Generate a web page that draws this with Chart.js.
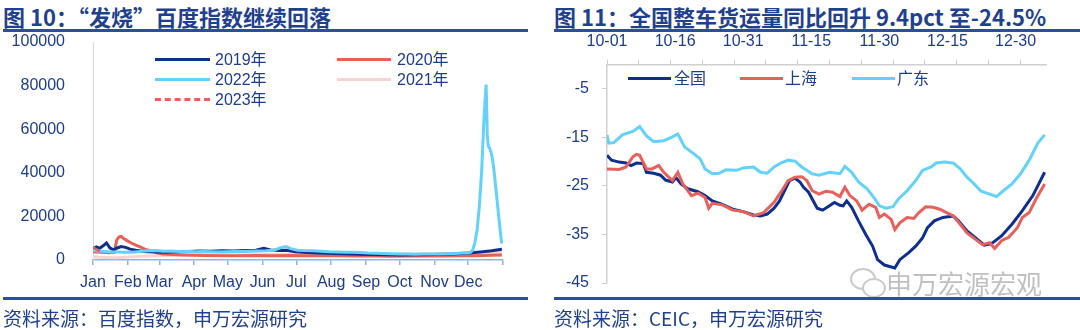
<!DOCTYPE html>
<html>
<head>
<meta charset="utf-8">
<script src="https://cdn.jsdelivr.net/npm/chart.js@4.4.1/dist/chart.umd.min.js"></script>
<style>
  body { margin: 0; width: 1080px; height: 330px; background: #fff; position: relative; overflow: hidden;
         font-family: "Liberation Sans", "Noto Sans CJK SC", sans-serif; color: #1d3c8c; }
  canvas { position: absolute; top: 0; }
  .title { position: absolute; top: 3px; font: bold 22px/26px "Noto Sans CJK SC", sans-serif; color: #1f3f8f; white-space: nowrap; }
  .rule { position: absolute; height: 2.5px; background: #2d4da0; }
  .src { position: absolute; top: 306px; font: 19px/24px "Noto Sans CJK SC", sans-serif; color: #1f3f8f; white-space: nowrap; }
  .key { position: absolute; height: 3px; }
  .key.dash { height: 0; border-top: 3px dashed #e9605b; }
  .lab { position: absolute; font-size: 16px; line-height: 20px; white-space: nowrap; color: #1d3c8c; }
  .mark { position: absolute; font: 26px/30px "Noto Sans CJK SC", sans-serif; color: rgba(140,140,140,0.55); white-space: nowrap; }
  .bub { position: absolute; border: 2px solid rgba(150,150,150,0.5); border-radius: 50%; }
</style>
</head>
<body>
<div class="title" style="left:3px">图 10：“发烧”百度指数继续回落</div>
<div class="title" style="left:554px">图 11：全国整车货运量同比回升 9.4pct 至-24.5%</div>
<div class="rule" style="left:3px; width:525px; top:29px"></div>
<div class="rule" style="left:554px; width:526px; top:29px"></div>

<canvas id="left" width="540" height="330" style="left:0"></canvas>
<canvas id="right" width="540" height="330" style="left:540px"></canvas>

<!-- legend, left chart -->
<div class="key" style="left:155px; width:55px; top:58px; background:#0e2f8e"></div>
<div class="lab" style="left:215px; top:50px">2019年</div>
<div class="key" style="left:337px; width:54px; top:58px; background:#e9605b"></div>
<div class="lab" style="left:397px; top:50px">2020年</div>
<div class="key" style="left:155px; width:55px; top:78px; background:#62d2fa"></div>
<div class="lab" style="left:215px; top:70px">2022年</div>
<div class="key" style="left:337px; width:54px; top:78px; background:#f9d3d3"></div>
<div class="lab" style="left:397px; top:70px">2021年</div>
<div class="key dash" style="left:155px; width:55px; top:98px"></div>
<div class="lab" style="left:215px; top:90px">2023年</div>

<!-- legend, right chart -->
<div class="key" style="left:628px; width:43px; top:77px; background:#0e2f8e"></div>
<div class="lab" style="left:674px; top:69px">全国</div>
<div class="key" style="left:740px; width:43px; top:77px; background:#e9605b"></div>
<div class="lab" style="left:785px; top:69px">上海</div>
<div class="key" style="left:852px; width:43px; top:77px; background:#62d2fa"></div>
<div class="lab" style="left:897px; top:69px">广东</div>

<!-- watermark -->
<div class="bub" style="left:850px; top:268px; width:22px; height:18px"></div>
<div class="bub" style="left:862px; top:278px; width:20px; height:16px; background:#fff"></div>
<div class="mark" style="left:886px; top:268px">申万宏源宏观</div>

<div class="rule" style="left:3px; width:525px; top:297px"></div>
<div class="rule" style="left:554px; width:526px; top:297px"></div>
<div class="src" style="left:3px">资料来源：百度指数，申万宏源研究</div>
<div class="src" style="left:554px">资料来源：CEIC，申万宏源研究</div>

<script>
// ---- left chart: Baidu index "发烧", day of year -> value ----
const monthLabels = ['Jan', 'Feb', 'Mar', 'Apr', 'May', 'Jun', 'Jul', 'Aug', 'Sep', 'Oct', 'Nov', 'Dec'];
const monthStarts = [0, 31, 59, 90, 120, 151, 181, 212, 243, 273, 304, 334, 365];
const leftTicks = [0, 20000, 40000, 60000, 80000, 100000];

const y2019Days = [0, 3, 6, 9, 12, 15, 18, 21, 25, 29, 33, 38, 45, 55, 65, 75, 85, 95, 105, 115,
  125, 135, 145, 152, 158, 165, 172, 180, 190, 200, 215, 230, 245, 260, 275, 290, 305, 320, 335, 345, 355, 364];
const y2019Vals = [5200, 6000, 5400, 6500, 7800, 5600, 4700, 5400, 6200, 5800, 5000, 4500, 3900, 3700, 3600, 3800, 3900, 4100, 4000, 4200,
  4100, 4400, 4500, 5400, 4600, 4400, 4500, 3800, 3400, 3200, 3000, 2800, 2500, 2400, 2300, 2400, 2500, 2700, 3200, 3700, 4200, 4900];

const y2020Days = [0, 7, 14, 19, 21, 23, 25, 27, 30, 34, 38, 42, 46, 52, 57, 62, 70, 80, 90, 100,
  115, 130, 145, 160, 175, 190, 205, 220, 235, 250, 265, 280, 295, 310, 325, 340, 355, 364];
const y2020Vals = [3800, 3500, 3300, 3500, 9000, 10500, 10800, 10000, 9000, 7800, 6800, 6000, 5000, 4200, 3300, 2800, 2500, 2300, 2200, 2100,
  2000, 2000, 2100, 2000, 2100, 2000, 2000, 1900, 1800, 1800, 1700, 1800, 1900, 1800, 1900, 2000, 2200, 2300];

const y2021Days = [0, 10, 20, 30, 40, 50, 60, 75, 90, 105, 120, 135, 150, 165, 180, 195, 210, 225, 240, 255, 270, 285, 300, 315, 330, 345, 364];
const y2021Vals = [1500, 1200, 1000, 1300, 1600, 1800, 2000, 2200, 2300, 2300, 2400, 2400, 2500, 2500, 2600, 2600, 2700, 2700, 2800, 2700,
  2600, 2800, 2900, 3000, 3100, 3200, 3400];

const y2022Days = [0, 7, 14, 21, 28, 35, 42, 49, 56, 63, 70, 77, 84, 91, 98, 105, 112, 119, 126, 133,
  140, 147, 154, 161, 168, 172, 176, 182, 189, 196, 203, 210, 217, 224, 231, 238, 245, 252, 259, 266,
  273, 280, 287, 294, 301, 308, 315, 322, 329, 334, 336, 338, 340, 342, 344, 346, 348, 349, 350, 351,
  352, 353, 354, 355, 356, 357, 358, 359, 360, 361, 362, 363, 364];
const y2022Vals = [4500, 4000, 3800, 3700, 3500, 3600, 3900, 4200, 4300, 4000, 4100, 3900, 4000, 3800, 3900, 3800, 3700, 3800, 3900, 3900,
  4000, 4100, 4200, 4500, 5800, 6200, 5200, 4500, 4300, 4200, 4000, 3800, 3700, 3600, 3500, 3400, 3200, 3100, 3000, 2900,
  2800, 2700, 2600, 2700, 2800, 2800, 2900, 3000, 3200, 3300, 3500, 4500, 8000, 14000, 25000, 41000, 64000, 73000, 80500, 57000,
  52000, 51500, 50000, 48000, 45000, 41000, 36000, 31000, 26000, 21000, 16000, 11000, 7500];

const y2023Days = [0, 2, 4, 6, 8];
const y2023Vals = [6000, 5200, 4600, 4000, 3600];

// ---- right chart: 整车货运量同比 (%), days since 10-01 ----
const rightLabels = ['10-01', '10-16', '10-31', '11-15', '11-30', '12-15', '12-30'];
const rightTicks = [-45, -35, -25, -15, -5];

const natDays = [0, 1, 2.7, 4.2, 5.3, 6.5, 8, 8.7, 10.3, 11.8, 12.9, 14.4, 15.2, 16.3, 17.8, 20, 21.6, 23.2, 25.4, 27.7,
  30, 32.3, 33.8, 35.3, 36.8, 38, 39.1, 40.2, 41.4, 42.5, 43.3, 44.4, 45.2, 46.3, 47.5, 49, 50.1, 51.3, 52, 52.8,
  53.9, 55.4, 57, 58.5, 59.6, 61.1, 63.4, 64.5, 66.4, 68, 69.5, 70.6, 72.1, 74, 76.3, 77.4, 79.3, 81.6, 83.1, 84.7,
  86.9, 89.2, 91.5, 93.8, 96.4];
const natVals = [-18.7, -19.7, -20.1, -20.3, -20.8, -20.3, -20.4, -22.2, -22.4, -22.8, -23.8, -24.2, -23.3, -24.6, -25.6, -26.2, -27, -28.1, -28.8, -29.8,
  -30.3, -31, -31.2, -30.8, -29.6, -28.1, -26, -23.9, -23.4, -24.2, -25.3, -26.3, -27.7, -29.6, -30, -29.1, -28.4, -29, -29.1, -28.1,
  -29.4, -32.2, -35, -37.4, -40.2, -41.3, -41.9, -40.2, -38.8, -37.4, -35.7, -33.6, -32.2, -31.5, -31.2, -32.2, -34.3, -36, -37.2, -36.9,
  -35.3, -32.9, -30.1, -27, -22.2];

const shDays = [0, 2.7, 4.2, 5.7, 6.5, 7.2, 8.7, 9.9, 11.4, 12.5, 14.4, 15.6, 16.7, 18.6, 20.1, 21.6, 22.4, 23.2, 25.4, 27.7,
  30, 32.3, 34.5, 36.8, 38.3, 39.9, 41.4, 42.9, 44, 45.2, 46.7, 48.2, 49.7, 51.3, 52.4, 53.5, 55, 56.2, 57.7, 59.2,
  60, 61.1, 62.6, 63.4, 64.5, 66.1, 67.6, 68.7, 70.2, 71.8, 73.3, 74.8, 76.3, 77.8, 79.3, 80.9, 82.7, 84.3, 85.4, 86.9,
  88.5, 90.4, 91.5, 93, 94.5, 96.4];
const shVals = [-21.5, -21.6, -21.1, -19, -18.5, -18.7, -21.5, -21.5, -20.8, -22.2, -23.9, -22.2, -24.6, -27, -26.5, -27.4, -29.6, -28.6, -28.9, -30,
  -30.3, -31.2, -30.5, -28.4, -26.3, -23.9, -23.2, -23.1, -23.9, -26, -26.7, -26.1, -26.3, -27.2, -25.3, -27, -28.1, -30, -28.8, -29.4,
  -31.5, -30.8, -31.9, -34, -32.6, -31.5, -31.7, -30.5, -29.3, -29.4, -29.8, -30.5, -31.2, -32.9, -34.7, -35.8, -37.1, -36.7, -37.9, -36.3,
  -35.6, -33.6, -31.5, -30.5, -27.7, -24.6];

const gdDays = [0, 0.4, 1.5, 3.4, 5.7, 7.2, 8.7, 10.3, 12.5, 14.4, 15.6, 17.1, 19, 20.5, 21.6, 23.2, 24.7, 26.2, 28.5, 30,
  32.3, 33.8, 35.3, 36.8, 38.3, 39.9, 41.4, 42.9, 45.2, 46.7, 49, 51.3, 52.4, 53.9, 55.4, 57.3, 58.8, 60, 61.5, 63,
  64.2, 66.1, 68, 69.5, 71.4, 72.5, 74.4, 76.3, 77.8, 79.3, 80.9, 82.4, 84.3, 85.8, 87.3, 89.2, 91.1, 93, 94.9, 96.4];
const gdVals = [-14.5, -16.2, -16.1, -14.5, -13.8, -12.8, -14.7, -15.9, -15.7, -14.9, -14.3, -17, -18.3, -19.4, -21.5, -22.5, -22.4, -21.7, -21.8, -21.3,
  -21.1, -22.2, -22.4, -21.1, -20.3, -19.7, -19.9, -21.1, -22.5, -22.8, -22.2, -22.5, -21, -22.2, -24.2, -25.6, -27.4, -29.1, -29.6, -29.3,
  -27.7, -26, -23.9, -21.8, -21.1, -20.3, -20.1, -20.3, -21.5, -23.2, -24.6, -26.1, -26.7, -27.2, -26, -24.6, -22.5, -19.7, -16.2, -14.5];

const NAVY = '#0e2f8e', RED = '#e9605b', CYAN = '#62d2fa', PINK = '#f9d3d3';
const TEXT = '#1d3c8c';
const FONT = { family: '"Liberation Sans", "Noto Sans CJK SC", sans-serif', size: 16 };

function pts(days, vals) {
  return days.map((d, i) => ({ x: d, y: vals[i] }));
}
function line(data, color, extra) {
  return Object.assign({ data: data, borderColor: color, borderWidth: 3, pointRadius: 0, tension: 0, fill: false }, extra || {});
}

Chart.defaults.animation = false;
Chart.defaults.font.family = FONT.family;

// first dataset is drawn on top
new Chart(document.getElementById('left').getContext('2d'), {
  type: 'line',
  data: {
    datasets: [
      line(pts(y2023Days, y2023Vals), RED, { borderDash: [8, 5], borderWidth: 2.5 }),
      line(pts(y2022Days, y2022Vals), CYAN),
      line(pts(y2019Days, y2019Vals), NAVY),
      line(pts(y2020Days, y2020Vals), RED),
      line(pts(y2021Days, y2021Vals), PINK)
    ]
  },
  options: {
    responsive: false,
    devicePixelRatio: 1,
    layout: { autoPadding: false, padding: { left: 0, right: 37, top: 42, bottom: 0 } },
    plugins: { legend: { display: false }, tooltip: { enabled: false } },
    scales: {
      x: {
        type: 'linear', min: 0, max: 365,
        afterBuildTicks: s => { s.ticks = monthStarts.map(v => ({ value: v })); },
        afterFit: s => { s.height = 70; },
        ticks: { autoSkip: false, maxRotation: 0, padding: 8, color: TEXT, font: FONT,
                 callback: (v, i) => monthLabels[i] || '' },
        grid: { drawOnChartArea: false, tickLength: 5, color: '#8db3e2', lineWidth: 1.5 },
        border: { color: '#8db3e2', width: 1.5 }
      },
      y: {
        min: 0, max: 100000,
        afterBuildTicks: s => { s.ticks = leftTicks.map(v => ({ value: v })); },
        afterFit: s => { s.width = 93; },
        ticks: { padding: 20, color: TEXT, font: FONT, callback: v => String(v) },
        grid: { display: false },
        border: { color: '#d9d9d9', width: 1 }
      }
    }
  }
});

new Chart(document.getElementById('right').getContext('2d'), {
  type: 'line',
  data: {
    datasets: [
      line(pts(shDays, shVals), RED),
      line(pts(natDays, natVals), NAVY),
      line(pts(gdDays, gdVals), CYAN)
    ]
  },
  options: {
    responsive: false,
    devicePixelRatio: 1,
    layout: { autoPadding: false, padding: { left: 0, right: 34, top: 0, bottom: 47 } },
    plugins: { legend: { display: false }, tooltip: { enabled: false } },
    scales: {
      x: {
        type: 'linear', position: 'top', min: 0, max: 96.7,
        afterBuildTicks: s => {
          const t = [];
          for (let d = 0; d <= 96; d++) {
            if (d % 7 === 0 || d % 15 === 0) t.push({ value: d });
          }
          s.ticks = t;
        },
        afterFit: s => { s.height = 64.5; },
        ticks: { autoSkip: false, maxRotation: 0, padding: 8, color: TEXT, font: FONT,
                 callback: v => (v % 15 === 0 ? rightLabels[v / 15] : '') },
        grid: { drawOnChartArea: false, tickLength: 5,
                color: c => (c.tick && c.tick.value % 7 === 0 ? '#d0d0d0' : 'rgba(0,0,0,0)') },
        border: { color: '#d0d0d0', width: 1.5 }
      },
      y: {
        min: -45, max: 0,
        afterBuildTicks: s => { s.ticks = rightTicks.map(v => ({ value: v })); },
        afterFit: s => { s.width = 67; },
        ticks: { padding: 13, color: TEXT, font: FONT },
        grid: { drawOnChartArea: false, tickLength: 5, color: '#d0d0d0' },
        border: { color: '#d0d0d0', width: 1.5 }
      }
    }
  }
});
</script>
</body>
</html>
